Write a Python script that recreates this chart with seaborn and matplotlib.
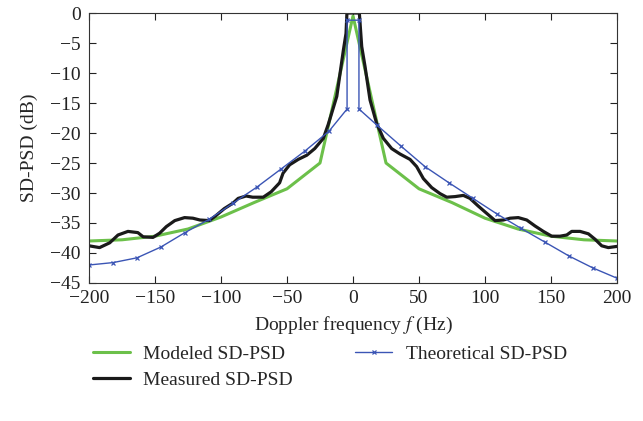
import numpy as np
import pandas as pd
import matplotlib
matplotlib.use("Agg")
import matplotlib.pyplot as plt
import seaborn as sns

# ------------------------------------------
# Data
# ------------------------------------------

modeled_f = [-200, -175, -150, -125, -100, -75, -50, -25, 0,
             25, 50, 75, 100, 125, 150, 175, 200]
modeled_db = [-38.0, -37.8, -37.2, -36.0, -34.0, -31.6, -29.3, -25.0, -0.5,
              -25.0, -29.3, -31.6, -34.2, -36.0, -37.2, -37.8, -38.0]

measured_f = [-200, -192, -184.3, -178, -170.5, -163, -159, -151.5, -146.5,
              -141.4, -135, -127.6, -121.3, -116, -108.8, -104, -97.5, -91,
              -87, -81, -76, -68, -62, -55.6, -53, -48, -41.5, -35, -29,
              -22.5, -18.8, -17.4, -12.3, -7.3, -5.3, -4.6, 4.8, 6.6, 9.1,
              12.9, 17.9, 23, 29.3, 35.6, 43.2, 48.2, 53.3, 59.6, 65.9, 71,
              77.3, 83.6, 88.6, 95, 101.3, 107.6, 113.9, 119, 125.2, 131.6,
              137.9, 144.2, 150.5, 156.8, 161.9, 165.7, 172, 178.3, 183.3,
              188.4, 193.4, 200]
measured_db = [-38.8, -39.1, -38.3, -37.0, -36.4, -36.6, -37.3, -37.4, -36.7,
               -35.6, -34.6, -34.1, -34.2, -34.5, -34.6, -33.8, -32.6, -31.7,
               -30.9, -30.5, -30.7, -30.7, -29.8, -28.3, -26.7, -25.3, -24.4,
               -23.7, -22.6, -20.9, -18.6, -17.6, -13.9, -6.2, -3.4, 0.0, 0.0,
               -5.6, -8.9, -14.5, -18.4, -20.9, -22.6, -23.5, -24.4, -25.6,
               -27.6, -29.1, -30.1, -30.7, -30.6, -30.4, -30.9, -32.2, -33.4,
               -34.6, -34.5, -34.2, -34.1, -34.5, -35.5, -36.4, -37.2, -37.2,
               -37.0, -36.4, -36.4, -36.8, -37.7, -38.8, -39.1, -38.9]

theoretical_f = [-200, -181.8, -163.6, -145.5, -127.3, -109.1, -90.9, -72.7,
                 -54.5, -36.4, -18.2, -4.5, -4.5, 4.5, 4.5, 18.2, 36.4, 54.5,
                 72.7, 90.9, 109.1, 127.3, 145.5, 163.6, 181.8, 200]
theoretical_db = [-42.0, -41.6, -40.8, -39.0, -36.6, -34.4, -31.7, -29.0,
                  -26.0, -23.0, -19.7, -16.0, -1.2, -1.2, -16.0, -18.7, -22.2,
                  -25.6, -28.3, -30.9, -33.5, -35.9, -38.2, -40.5, -42.5, -44.2]

xticks = [-200, -150, -100, -50, 0, 50, 100, 150, 200]
yticks = [-45, -40, -35, -30, -25, -20, -15, -10, -5, 0]

# ------------------------------------------
# Plot
# ------------------------------------------

sns.set_style("white")
plt.rcParams['font.family'] = ['Liberation Serif', 'DejaVu Serif']
plt.rcParams['mathtext.fontset'] = 'stix'
plt.rcParams['font.size'] = 14

fig = plt.figure(figsize=(6.43, 4.21), dpi=100)
ax = fig.add_axes([0.1384, 0.3278, 0.8212, 0.6413])

sns.lineplot(x=modeled_f, y=modeled_db, ax=ax, color='#6cc04a',
             linewidth=2.2, label='Modeled SD-PSD', sort=False,
             estimator=None)
sns.lineplot(x=measured_f, y=measured_db, ax=ax, color='#1a1a1a',
             linewidth=2.3, label='Measured SD-PSD', sort=False,
             estimator=None)
sns.lineplot(x=theoretical_f, y=theoretical_db, ax=ax, color='#3b55b5',
             linewidth=1.0, marker='x', markersize=2.5, markeredgewidth=0.9,
             markeredgecolor='#3b55b5', label='Theoretical SD-PSD',
             sort=False, estimator=None)

ax.set_xlim(-200, 200)
ax.set_ylim(-45, 0)
ax.set_xticks(xticks)
ax.set_yticks(yticks)
ax.set_xticklabels([str(v).replace('-', '\u2212') for v in xticks])
ax.set_yticklabels([str(v).replace('-', '\u2212') for v in yticks])

ax.tick_params(direction='in', length=5, width=0.8, top=True, right=True,
               bottom=True, left=True, labelsize=14, colors='#222222')
ax.tick_params(axis='y', pad=6)
ax.tick_params(axis='x', pad=5)
for s in ax.spines.values():
    s.set_linewidth(0.8)
    s.set_color('#333333')

ax.set_xlabel('Doppler frequency $f$ (Hz)', fontsize=14, labelpad=6)
ax.set_ylabel('SD-PSD (dB)', fontsize=14, labelpad=9)

ax.legend(loc='upper left', bbox_to_anchor=(0.117, 0.222),
          bbox_transform=fig.transFigure, ncol=2,
          frameon=False, fontsize=14, handlelength=1.9, columnspacing=3.2,
          labelspacing=0.45, handletextpad=0.7)

plt.savefig("out.png", dpi=100)
